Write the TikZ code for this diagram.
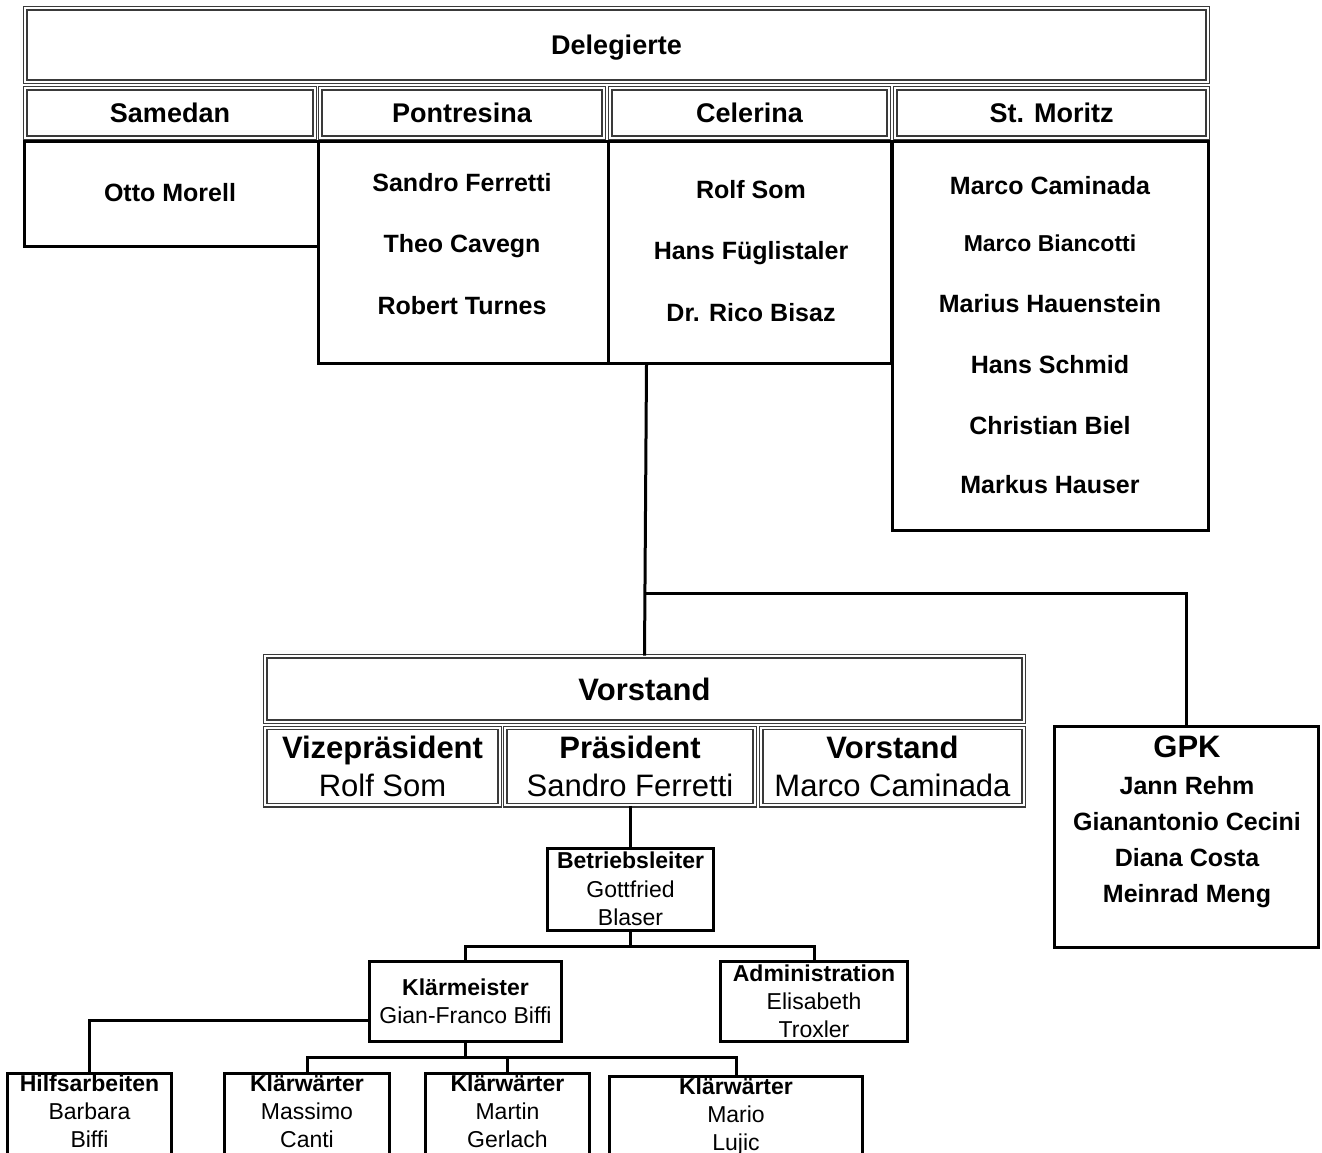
\documentclass[tikz,border=0pt]{standalone}
\usepackage{fontspec}
\setmainfont{Liberation Sans}
\definecolor{dgray}{HTML}{3A3A3A}
\newcommand{\myfs}[2]{\fontsize{#1}{#2}\selectfont}
\tikzset{
  dbl/.style={draw=dgray, double=white, double distance=2pt, line width=1.4pt, inner sep=0pt, align=center},
  hdr/.style={dbl, font=\myfs{27}{32}\bfseries, text depth=0pt},
  box/.style={draw=black, line width=3pt, inner sep=0pt, align=center},
  lbl/.style={inner sep=0pt, align=center, text depth=0pt},
  names/.style={inner sep=0pt, align=center, font=\myfs{25}{61.5}\bfseries},
  conn/.style={draw=black, line width=3pt},
  sbox/.style={box, font=\myfs{23}{28}},
  stxt/.style={inner sep=0pt, align=center, font=\myfs{23}{28}},
  vsub/.style={dbl, minimum height=77.2pt, font=\myfs{31}{38}}
}
\begin{document}
\begin{tikzpicture}[x=1pt, y=-1pt]
\useasboundingbox (0,0) rectangle (1322,1153);
\fill[white] (0,0) rectangle (1322,1153);
\clip (0,0) rectangle (1322,1153);

% ---- Delegierte ----
\node[box, minimum width=293.5pt, minimum height=104pt] (samB) at (171.25,194) {};
\node[box, minimum width=290pt, minimum height=221pt] (ponB) at (463,252.5) {};
\node[box, minimum width=283pt, minimum height=221pt] (celB) at (749.5,252.5) {};
\node[box, minimum width=316.5pt, minimum height=388pt] (smB) at (1050.25,336) {};

\node[hdr, minimum width=1182.2pt, minimum height=73.2pt] (del) at (616.5,45) {Delegierte};
\node[hdr, minimum width=289.2pt, minimum height=49.2pt] (samH) at (170,113) {Samedan};
\node[hdr, minimum width=283.2pt, minimum height=49.2pt] (ponH) at (462,113) {Pontresina};
\node[hdr, minimum width=278.2pt, minimum height=49.2pt] (celH) at (749.5,113) {Celerina};
\node[hdr, minimum width=312.2pt, minimum height=49.2pt] (smH) at (1051.5,113) {St. Moritz};

\node[lbl, font=\myfs{25}{30}\bfseries] (samN) at (170,192) {Otto Morell};
\node[names] (ponN) at (462,244) {Sandro Ferretti\\Theo Cavegn\\Robert Turnes};
\node[names] (celN) at (751,251) {Rolf Som\\Hans Füglistaler\\Dr. Rico Bisaz};
\node[lbl, font=\myfs{25}{30}\bfseries] (smN1) at (1050,185) {Marco Caminada};
\node[lbl, font=\myfs{23}{28}\bfseries] (smN2) at (1050,243) {Marco Biancotti};
\node[lbl, font=\myfs{25}{30}\bfseries] (smN3) at (1050,303) {Marius Hauenstein};
\node[lbl, font=\myfs{25}{30}\bfseries] (smN4) at (1050,364) {Hans Schmid};
\node[lbl, font=\myfs{25}{30}\bfseries] (smN5) at (1050,425) {Christian Biel};
\node[lbl, font=\myfs{25}{30}\bfseries] (smN6) at (1050,484) {Markus Hauser};

% ---- Vorstand ----
\node[dbl, minimum width=758.2pt, minimum height=65.2pt, font=\myfs{31}{38}\bfseries, text depth=0pt] (vor) at (644.5,689) {Vorstand};
\node[vsub, minimum width=234.2pt] (vize) at (382.5,766.5) {\textbf{Vizepräsident}\\Rolf Som};
\node[vsub, minimum width=249.2pt] (praes) at (630,766.5) {\textbf{Präsident}\\Sandro Ferretti};
\node[vsub, minimum width=262.2pt] (vorm) at (892.5,766.5) {\textbf{Vorstand}\\Marco Caminada};

% ---- GPK ----
\node[box, minimum width=264pt, minimum height=220.5pt] (gpk) at (1186.5,836.75) {};
\node[lbl, font=\myfs{31}{38}\bfseries] (gpkT) at (1187,747) {GPK};
\node[inner sep=0pt, align=center, font=\myfs{25}{36}\bfseries] (gpkN) at (1187,842) {Jann Rehm\\Gianantonio Cecini\\Diana Costa\\Meinrad Meng};

% ---- Betrieb ----
\node[box, minimum width=166pt, minimum height=82pt, font=\myfs{23}{28.5}] (betr) at (630.5,889) {\textbf{Betriebsleiter}\\Gottfried\\Blaser};
\node[sbox, minimum width=192pt, minimum height=80pt] (km) at (465.5,1001.5) {\textbf{Klärmeister}\\Gian-Franco Biffi};
\node[sbox, minimum width=187pt, minimum height=80pt] (adm) at (814,1001.5) {\textbf{Administration}\\Elisabeth\\Troxler};
\node[sbox, minimum width=164pt, minimum height=82pt] (hilf) at (89.5,1114.5) {};
\node[stxt] (hilfT) at (89.5,1111) {\textbf{Hilfsarbeiten}\\Barbara\\Biffi};
\node[sbox, minimum width=165pt, minimum height=82pt] (kw1) at (307,1114.5) {};
\node[stxt] (kw1T) at (307,1111) {\textbf{Klärwärter}\\Massimo\\Canti};
\node[sbox, minimum width=164pt, minimum height=82pt] (kw2) at (507.5,1114.5) {};
\node[stxt] (kw2T) at (507.5,1111) {\textbf{Klärwärter}\\Martin\\Gerlach};
\node[sbox, minimum width=253pt, minimum height=80pt] (kw3) at (736,1116.5) {\textbf{Klärwärter}\\Mario\\Lujic};

% ---- connectors ----
\coordinate (br) at (645,593);
\coordinate (b1) at (630.5,946);
\coordinate (b2) at (465.5,1057);
\draw[conn] (celB.south west) ++(40,0) -- (vor.north);
\draw[conn] (br) -| (gpk.north);
\draw[conn] (praes.south) -- (praes.south |- betr.north);
\draw[conn] (betr.south) -- (b1);
\draw[conn] (km.north) |- (b1) -| (adm.north);
\draw[conn] ([yshift=-18.5pt]km.west) -| (hilf.north);
\draw[conn] (km.south) -- (b2);
\draw[conn] (kw1.north) |- (b2) -| (kw3.north);
\draw[conn] (b2 -| kw2.north) -- (kw2.north);
\end{tikzpicture}
\end{document}
